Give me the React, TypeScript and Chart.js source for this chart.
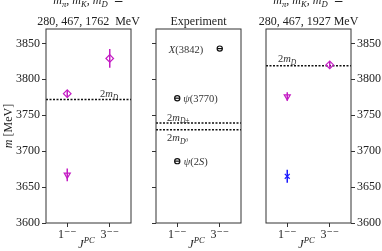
import React, { useEffect, useRef } from 'react';
import { Chart, registerables } from 'chart.js';
Chart.register(...registerables);

const W = 382;
const H = 251;
const FONT = '"Liberation Serif", "DejaVu Serif", serif';

const categories = ['1⁻⁻', '3⁻⁻'];
const yTicks = [3600, 3650, 3700, 3750, 3800, 3850];
const Y_MIN = 3600;
const Y_MAX = 3870;

const MAGENTA = '#c41cc4';
const BLUE = '#1a1aff';
const BLACK = '#111111';

// Panel 1: m_pi, m_K, m_D = 280, 467, 1762 MeV
const p1DiamondJ = [0, 1];
const p1DiamondM = [3780, 3829];
const p1DiamondErr = [5, 13];
const p1TriJ = [0];
const p1TriM = [3667];
const p1TriErr = [9];
const p1TwoMD = 3772;

// Panel 2: experiment
const expNames = ['X(3842)', 'ψ(3770)', 'ψ(2S)'];
const expJ = [1, 0, 0];
const expM = [3842.7, 3773.7, 3686.1];
const expTwoMDpm = 3739.3;
const expTwoMD0 = 3729.7;

// Panel 3: m_pi, m_K, m_D = 280, 467, 1927 MeV
const p3DiamondJ = [1];
const p3DiamondM = [3820];
const p3DiamondErr = [4];
const p3TriJ = [0];
const p3TriM = [3776];
const p3TriErr = [6];
const p3CrossJ = [0];
const p3CrossM = [3665];
const p3CrossErr = [9];
const p3TwoMD = 3819;

type Part = { t: string; it?: boolean; sub?: boolean; sup?: boolean };
type Series = {
  j: number[];
  m: number[];
  err?: number[];
  color: string;
  style: any;
  rotation?: number;
  radius: number;
};
type Label = { x: number; m: number; parts: Part[] };
type PanelCfg = {
  key: string;
  area: { left: number; right: number; top: number; bottom: number };
  ySide: 'left' | 'right';
  yLabels: boolean;
  yWidth: number;
  series: Series[];
  lines: number[];
  labels: Label[];
  title: Part[][];
  yTitle?: boolean;
};

function drawRich(ctx: CanvasRenderingContext2D, parts: Part[], x: number, y: number, align: 'left' | 'center', size: number, color: string) {
  const fontFor = (p: Part) => `${p.it ? 'italic ' : ''}${p.sub || p.sup ? size * 0.72 : size}px ${FONT}`;
  let total = 0;
  const widths = parts.map((p) => {
    ctx.font = fontFor(p);
    const w = ctx.measureText(p.t).width;
    total += w;
    return w;
  });
  let cx = align === 'center' ? x - total / 2 : x;
  ctx.fillStyle = color;
  ctx.textBaseline = 'alphabetic';
  ctx.textAlign = 'left';
  parts.forEach((p, i) => {
    ctx.font = fontFor(p);
    const dy = p.sub ? size * 0.25 : p.sup ? -size * 0.4 : 0;
    ctx.fillText(p.t, cx, y + dy);
    cx += widths[i];
  });
}

const mdTitle: Part[] = [
  { t: 'm', it: true }, { t: 'π', it: true, sub: true }, { t: ', ' },
  { t: 'm', it: true }, { t: 'K', it: true, sub: true }, { t: ', ' },
  { t: 'm', it: true }, { t: 'D', it: true, sub: true }, { t: '  ≃' },
];
const twoMD: Part[] = [{ t: '2' }, { t: 'm', it: true }, { t: 'D', it: true, sub: true }];

function makePlugin(cfg: PanelCfg) {
  return {
    id: 'deco' + cfg.key,
    beforeDatasetsDraw(chart: any) {
      const { ctx, chartArea: a, scales } = chart;
      const xs = scales.x;
      const ys = scales.y;
      ctx.save();
      ctx.strokeStyle = BLACK;
      ctx.lineWidth = 1.5;
      ctx.setLineDash([2, 1.5]);
      for (const v of cfg.lines) {
        const py = ys.getPixelForValue(v);
        ctx.beginPath();
        ctx.moveTo(a.left, py);
        ctx.lineTo(a.right, py);
        ctx.stroke();
      }
      ctx.setLineDash([]);
      for (const s of cfg.series) {
        if (!s.err) continue;
        ctx.strokeStyle = s.color;
        ctx.lineWidth = 1.5;
        s.j.forEach((jj, i) => {
          const px = xs.getPixelForValue(jj);
          ctx.beginPath();
          ctx.moveTo(px, ys.getPixelForValue(s.m[i] - s.err![i]));
          ctx.lineTo(px, ys.getPixelForValue(s.m[i] + s.err![i]));
          ctx.stroke();
        });
      }
      ctx.restore();
    },
    afterDraw(chart: any) {
      const { ctx, chartArea: a, scales } = chart;
      const xs = scales.x;
      const ys = scales.y;
      ctx.save();
      ctx.strokeStyle = '#333';
      ctx.lineWidth = 1;
      ctx.strokeRect(a.left, a.top, a.right - a.left, a.bottom - a.top);
      for (const l of cfg.labels) {
        drawRich(ctx, l.parts, xs.getPixelForValue(l.x), ys.getPixelForValue(l.m) + 4, 'left', 10.5, '#333');
      }
      const cx = (a.left + a.right) / 2;
      if (cfg.title.length === 2) {
        drawRich(ctx, cfg.title[0], cx, 4, 'center', 12, '#222');
        drawRich(ctx, cfg.title[1], cx, 25, 'center', 12, '#222');
      } else {
        drawRich(ctx, cfg.title[0], cx, 25, 'center', 12, '#222');
      }
      drawRich(ctx, [{ t: 'J', it: true }, { t: 'PC', it: true, sup: true }], cx - 2, 248, 'center', 12, '#222');
      if (cfg.yTitle) {
        ctx.translate(12, (a.top + a.bottom) / 2);
        ctx.rotate(-Math.PI / 2);
        drawRich(ctx, [{ t: 'm', it: true }, { t: ' [MeV]' }], 0, 0, 'center', 12, '#222');
      }
      ctx.restore();
    },
  };
}

function Panel({ cfg }: { cfg: PanelCfg }) {
  const ref = useRef<HTMLCanvasElement | null>(null);
  useEffect(() => {
    if (!ref.current) return;
    const a = cfg.area;
    const xH = 20;
    const padding =
      cfg.ySide === 'left'
        ? { left: a.left - cfg.yWidth, right: W - a.right, top: a.top, bottom: H - a.bottom - xH }
        : { left: a.left, right: W - a.right - cfg.yWidth, top: a.top, bottom: H - a.bottom - xH };
    const datasets: any[] = [];
    for (const s of cfg.series) {
      const styles = Array.isArray(s.style) ? s.style : [s.style];
      for (const st of styles) {
        datasets.push({
          type: 'scatter',
          data: s.j.map((x, i) => ({ x, y: s.m[i] })),
          pointStyle: st,
          rotation: s.rotation || 0,
          pointRadius: s.radius,
          pointBorderWidth: 1.2,
          borderColor: s.color,
          backgroundColor: 'rgba(0,0,0,0)',
          showLine: false,
        });
      }
    }
    const chart = new Chart(ref.current, {
      type: 'scatter',
      data: { datasets },
      plugins: [makePlugin(cfg)],
      options: {
        responsive: false,
        animation: false,
        layout: { padding },
        plugins: { legend: { display: false }, tooltip: { enabled: false }, title: { display: false } },
        scales: {
          x: {
            type: 'linear',
            min: -0.5,
            max: 1.5,
            afterBuildTicks: (s: any) => {
              s.ticks = categories.map((_, i) => ({ value: i }));
            },
            afterFit: (s: any) => {
              s.height = xH;
            },
            ticks: {
              callback: (v: any) => categories[v as number] ?? '',
              font: { family: FONT, size: 12 },
              color: '#222',
              padding: 1,
              maxRotation: 0,
            },
            grid: { drawOnChartArea: false, tickLength: 4, color: '#333' },
            border: { display: false },
          },
          y: {
            type: 'linear',
            position: cfg.ySide,
            min: Y_MIN,
            max: Y_MAX,
            afterBuildTicks: (s: any) => {
              s.ticks = yTicks.map((v) => ({ value: v }));
            },
            afterFit: (s: any) => {
              s.width = cfg.yWidth;
            },
            ticks: {
              display: cfg.yLabels,
              callback: (v: any) => String(v),
              font: { family: FONT, size: 12 },
              color: '#222',
              padding: 2,
            },
            grid: { drawOnChartArea: false, tickLength: 4, color: '#333' },
            border: { display: false },
          },
        },
      } as any,
    });
    return () => chart.destroy();
  }, [cfg]);
  return (
    <canvas
      ref={ref}
      width={W}
      height={H}
      style={{ position: 'absolute', left: 0, top: 0, width: W, height: H }}
    />
  );
}

const panels: PanelCfg[] = [
  {
    key: 'a',
    area: { left: 46, right: 131, top: 29, bottom: 223 },
    ySide: 'left',
    yLabels: true,
    yWidth: 40,
    yTitle: true,
    series: [
      { j: p1DiamondJ, m: p1DiamondM, err: p1DiamondErr, color: MAGENTA, style: 'rectRot', radius: 3.8 },
      { j: p1TriJ, m: p1TriM, err: p1TriErr, color: MAGENTA, style: 'triangle', rotation: 180, radius: 3.5 },
    ],
    lines: [p1TwoMD],
    labels: [{ x: 0.77, m: 3781, parts: twoMD }],
    title: [mdTitle, [{ t: '280, 467, 1762  MeV' }]],
  },
  {
    key: 'b',
    area: { left: 156, right: 241, top: 29, bottom: 223 },
    ySide: 'left',
    yLabels: false,
    yWidth: 5,
    series: [
      { j: expJ, m: expM, color: BLACK, style: ['circle', 'line'], radius: 2.6 },
    ],
    lines: [expTwoMDpm, expTwoMD0],
    labels: [
      { x: -0.2, m: expM[0], parts: [{ t: 'X', it: true }, { t: '(3842)' }] },
      { x: 0.14, m: expM[1], parts: [{ t: 'ψ', it: true }, { t: '(3770)' }] },
      { x: 0.15, m: expM[2], parts: [{ t: 'ψ', it: true }, { t: '(2' }, { t: 'S', it: true }, { t: ')' }] },
      { x: -0.24, m: 3748, parts: [{ t: '2' }, { t: 'm', it: true }, { t: 'D±', it: true, sub: true }] },
      { x: -0.24, m: 3719, parts: [{ t: '2' }, { t: 'm', it: true }, { t: 'D⁰', it: true, sub: true }] },
    ],
    title: [[{ t: 'Experiment' }]],
  },
  {
    key: 'c',
    area: { left: 266, right: 351, top: 29, bottom: 223 },
    ySide: 'right',
    yLabels: true,
    yWidth: 30,
    series: [
      { j: p3DiamondJ, m: p3DiamondM, err: p3DiamondErr, color: MAGENTA, style: 'rectRot', radius: 3.8 },
      { j: p3TriJ, m: p3TriM, err: p3TriErr, color: MAGENTA, style: 'triangle', rotation: 180, radius: 3.5 },
      { j: p3CrossJ, m: p3CrossM, err: p3CrossErr, color: BLUE, style: 'crossRot', radius: 3.5 },
    ],
    lines: [p3TwoMD],
    labels: [{ x: -0.22, m: 3829, parts: twoMD }],
    title: [mdTitle, [{ t: '280, 467, 1927 MeV' }]],
  },
];

export default function App() {
  return (
    <div style={{ position: 'absolute', left: 0, top: 0, width: W, height: H, background: '#fff', overflow: 'hidden' }}>
      {panels.map((p) => (
        <Panel key={p.key} cfg={p} />
      ))}
    </div>
  );
}
